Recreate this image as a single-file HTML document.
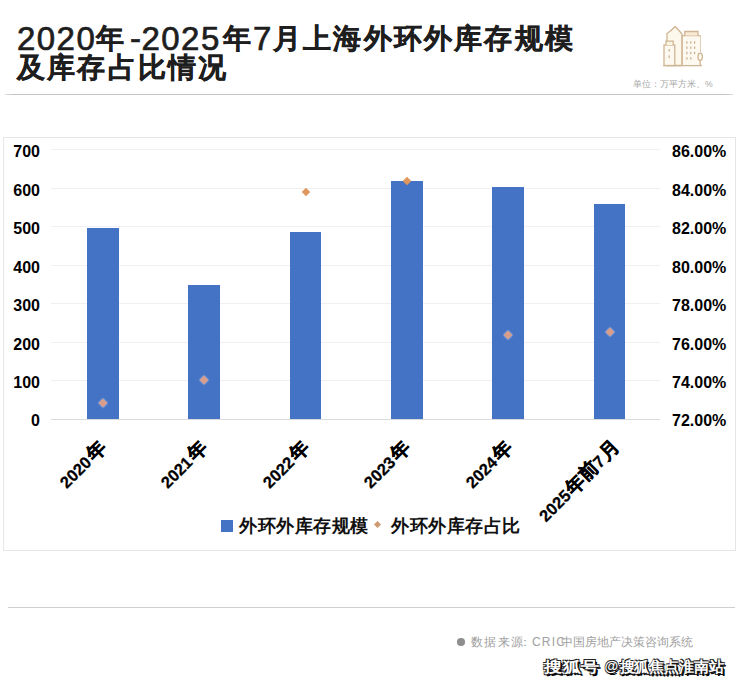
<!DOCTYPE html>
<html><head><meta charset="utf-8">
<style>
html,body{margin:0;padding:0;background:#fff;}
body{width:740px;height:682px;position:relative;overflow:hidden;font-family:"Liberation Sans",sans-serif;}
.a{position:absolute;white-space:nowrap;}
.tc{font-size:28px;letter-spacing:2.2px;color:#1e1e1e;line-height:30px;font-weight:bold;-webkit-text-stroke:0.35px #1e1e1e;}
.td{font-size:33px;letter-spacing:1.45px;font-weight:normal;-webkit-text-stroke:0.7px #1e1e1e;line-height:30px;color:#1e1e1e;}
.unit{left:633px;top:78px;font-size:8.6px;line-height:12px;color:#a8a8a8;letter-spacing:0px;}
.hline{height:1px;background:#c8c8c8;}
.box{left:3px;top:137px;width:731px;height:412px;border:1px solid #e6e6e6;}
.grid{left:51px;width:609px;height:1px;background:#f0f0f0;}
.yl{font-size:16px;font-weight:bold;color:#000;text-align:right;width:40px;left:0;line-height:16px;}
.yr{font-size:16px;font-weight:bold;color:#000;left:672px;line-height:16px;}
.bar{background:#4472c4;width:31.5px;}
.dia{width:6px;height:6px;background:#e0975e;transform:rotate(45deg);}
.xl{font-size:16.5px;font-weight:bold;color:#000;-webkit-text-stroke:0.25px #000;line-height:16px;transform-origin:100% 0;transform:rotate(-45deg);}
.cj{-webkit-text-stroke:0.45px #000;font-size:19px;margin-left:1.5px;}
.leg{font-size:18px;letter-spacing:0.5px;font-weight:bold;color:#111;line-height:18px;}
.src{font-size:12px;color:#a0a0a0;line-height:14px;letter-spacing:0.7px;font-weight:300;}
.wm{font-size:15px;font-weight:900;color:#fff;line-height:17px;text-shadow:0.8px 0.8px 0 #111,-0.6px -0.6px 0 #222,0.8px -0.6px 0 #222,-0.6px 0.8px 0 #222,1.8px 1.8px 0.6px #000;}
</style></head>
<body>
<div class="a tc" style="left:96px;top:23.5px">年</div>
<div class="a td" style="left:17px;top:23.5px">2020</div>
<div class="a td" style="left:130px;top:23.5px">-</div>
<div class="a td" style="left:141.5px;top:23.5px">2025</div>
<div class="a tc" style="left:223px;top:23.5px">年</div>
<div class="a td" style="left:253px;top:23.5px">7</div>
<div class="a tc" style="left:273px;top:23.5px">月上海外环外库存规模</div>
<div class="a tc" style="left:17px;top:53px">及库存占比情况</div>

<svg class="a" style="left:650px;top:20px;" width="65" height="50" viewBox="650 20 65 50">
 <g fill="none" stroke="#d0b594" stroke-width="1.3">
  <path d="M667 41 V33.5 Q670.5 31.5 675 26.5 L679 30.5 Q681 33 682 34 V65.5 H667 Z" fill="#fcf8ec"/>
  <rect x="664" y="45" width="10.8" height="20.5" fill="#fdf9f0"/>
  <path d="M666 45 V41.2 H673.2 V45" fill="#fbf3e4"/>
  <path d="M682.2 65.5 V35.6 H700 V52.5" fill="#fdf9f0"/>
  <path d="M682.2 65.5 H700 V35.6" fill="#fdf9f0" stroke="none"/>
  <path d="M684.8 35.6 V31.5 H698 V35.6" fill="#f8ead4"/>
  <path d="M663.3 65.6 H702"/>
  <ellipse cx="700.2" cy="56.8" rx="2.2" ry="3.6" fill="#fdfaf2"/>
  <path d="M700.2 60.4 V65.5"/>
 </g>
 <g fill="#c9ae8c">
  <rect x="686.3" y="41.3" width="1.2" height="2.4"/><rect x="690.2" y="41.3" width="1.2" height="2.4"/><rect x="694" y="41.3" width="1.2" height="2.4"/>
  <rect x="686.3" y="46.5" width="1.2" height="2.4"/><rect x="690.2" y="46.5" width="1.2" height="2.4"/><rect x="694" y="46.5" width="1.2" height="2.4"/>
  <rect x="686.3" y="51.8" width="1.2" height="2.4"/><rect x="690.2" y="51.8" width="1.2" height="2.4"/><rect x="694" y="51.8" width="1.2" height="2.4"/>
  <rect x="686.3" y="57.3" width="1.2" height="2.4"/><rect x="690.2" y="57.3" width="1.2" height="2.4"/>
  <rect x="668.6" y="49" width="1.2" height="2.6"/><rect x="668.6" y="55.5" width="1.2" height="2.6"/>
 </g>
</svg>
<div class="a unit">单位：万平方米、%</div>
<div class="a hline" style="left:5px;top:94px;width:728px;background:linear-gradient(90deg,#e0e0e0 0,#c4c4c4 8px,#c4c4c4 720px,#dcdcdc 728px)"></div>

<div class="a box"></div>
<!-- gridlines -->
<div class="a grid" style="top:149px"></div>
<div class="a grid" style="top:188px"></div>
<div class="a grid" style="top:226px"></div>
<div class="a grid" style="top:265px"></div>
<div class="a grid" style="top:303px"></div>
<div class="a grid" style="top:342px"></div>
<div class="a grid" style="top:380px"></div>
<div class="a grid" style="top:419px;background:#d9d9d9"></div>

<!-- left labels -->
<div class="a yl" style="top:144px">700</div>
<div class="a yl" style="top:183px">600</div>
<div class="a yl" style="top:221px">500</div>
<div class="a yl" style="top:260px">400</div>
<div class="a yl" style="top:298px">300</div>
<div class="a yl" style="top:337px">200</div>
<div class="a yl" style="top:375px">100</div>
<div class="a yl" style="top:413px">0</div>

<!-- right labels -->
<div class="a yr" style="top:144px">86.00%</div>
<div class="a yr" style="top:183px">84.00%</div>
<div class="a yr" style="top:221px">82.00%</div>
<div class="a yr" style="top:260px">80.00%</div>
<div class="a yr" style="top:298px">78.00%</div>
<div class="a yr" style="top:337px">76.00%</div>
<div class="a yr" style="top:375px">74.00%</div>
<div class="a yr" style="top:413px">72.00%</div>

<!-- bars -->
<div class="a bar" style="left:87px;top:228px;height:191px"></div>
<div class="a bar" style="left:188px;top:285px;height:134px"></div>
<div class="a bar" style="left:289.5px;top:231.5px;height:187.5px"></div>
<div class="a bar" style="left:391px;top:181px;height:238px"></div>
<div class="a bar" style="left:492px;top:187px;height:232px"></div>
<div class="a bar" style="left:593.5px;top:204px;height:215px"></div>

<!-- diamonds -->
<div class="a dia" style="left:99.9px;top:400.4px;background:#d99d88;box-shadow:0 0 1.5px 0.5px rgba(225,225,245,0.6)"></div>
<div class="a dia" style="left:201.1px;top:377.3px;background:#d99d88;box-shadow:0 0 1.5px 0.5px rgba(225,225,245,0.6)"></div>
<div class="a dia" style="left:302.7px;top:189.4px"></div>
<div class="a dia" style="left:403.9px;top:177.9px"></div>
<div class="a dia" style="left:504.5px;top:331.9px;background:#d99d88;box-shadow:0 0 1.5px 0.5px rgba(225,225,245,0.6)"></div>
<div class="a dia" style="left:606.5px;top:328.6px;background:#d99d88;box-shadow:0 0 1.5px 0.5px rgba(225,225,245,0.6)"></div>

<!-- x labels: right end anchored -->
<div class="a xl" style="right:643px;top:438.5px">2020<span class="cj">年</span></div>
<div class="a xl" style="right:542px;top:438.5px">2021<span class="cj">年</span></div>
<div class="a xl" style="right:440px;top:438.5px">2022<span class="cj">年</span></div>
<div class="a xl" style="right:339px;top:438.5px">2023<span class="cj">年</span></div>
<div class="a xl" style="right:237px;top:438.5px">2024<span class="cj">年</span></div>
<div class="a xl" style="right:129px;top:437.5px">2025<span class="cj">年前</span>7<span class="cj">月</span></div>

<!-- legend -->
<div class="a" style="left:220.5px;top:520px;width:12px;height:11.5px;background:#4472c4"></div>
<div class="a leg" style="left:239px;top:517px">外环外库存规模</div>
<div class="a" style="left:375.3px;top:522.3px;width:5px;height:5px;background:#cf9a70;transform:rotate(45deg)"></div>
<div class="a leg" style="left:391px;top:517px">外环外库存占比</div>

<div class="a hline" style="left:8px;top:607px;width:727px;background:#cfcfcf"></div>
<div class="a" style="left:457.2px;top:638.3px;width:7.5px;height:7.5px;border-radius:50%;background:#8e8e8e"></div>
<div class="a src" style="left:471px;top:635px;letter-spacing:1.4px">数据来源</div>
<div class="a src" style="left:518.5px;top:635px">：</div>
<div class="a src" style="left:532px;top:635px;letter-spacing:1.2px">CRIC</div>
<div class="a src" style="left:561px;top:635px;letter-spacing:0px;font-size:11.5px">中国房地产决策咨询系统</div>
<div class="a wm" style="left:543.5px;top:657.5px;letter-spacing:0.5px;transform:scaleX(1.2);transform-origin:0 0">搜狐号</div>
<div class="a wm" style="left:604.5px;top:657.5px;font-size:14px">@</div>
<div class="a wm" style="left:619.5px;top:657.5px;letter-spacing:-0.1px">搜狐焦点淮南站</div>
</body></html>
